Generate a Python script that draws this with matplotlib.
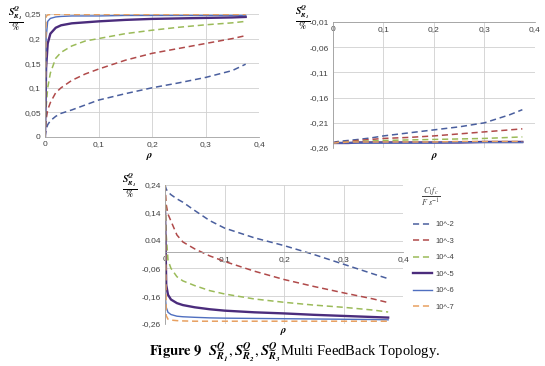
import numpy as np
import matplotlib
matplotlib.use("Agg")
import matplotlib.pyplot as plt

plt.rcParams['mathtext.fontset'] = 'stix'
plt.rcParams['font.family'] = ['Liberation Sans', 'DejaVu Sans']

# rho samples shared by all curves
rho = [0, 0.002, 0.005, 0.01, 0.02, 0.03, 0.05, 0.075, 0.1, 0.15, 0.2, 0.25, 0.3, 0.35, 0.375]

series = ['10^-2', '10^-3', '10^-4', '10^-5', '10^-6', '10^-7']

# S_R1 (top left)
r1_e2 = [0, 0.015, 0.025, 0.033, 0.042, 0.048, 0.055, 0.065, 0.075, 0.088, 0.100, 0.110, 0.121, 0.135, 0.148]
r1_e3 = [0, 0.035, 0.055, 0.070, 0.090, 0.100, 0.115, 0.128, 0.138, 0.156, 0.170, 0.180, 0.190, 0.200, 0.206]
r1_e4 = [0, 0.060, 0.100, 0.130, 0.160, 0.172, 0.185, 0.195, 0.200, 0.210, 0.217, 0.223, 0.228, 0.232, 0.235]
r1_e5 = [0, 0.140, 0.190, 0.210, 0.222, 0.227, 0.231, 0.233, 0.235, 0.238, 0.240, 0.241, 0.242, 0.243, 0.244]
r1_e6 = [0, 0.200, 0.235, 0.241, 0.244, 0.245, 0.246, 0.246, 0.246, 0.247, 0.247, 0.247, 0.247, 0.247, 0.247]
r1_e7 = [0, 0.245, 0.248, 0.249, 0.249, 0.249, 0.249, 0.249, 0.249, 0.249, 0.249, 0.249, 0.249, 0.249, 0.249]

# S_R2 (top right)
r2_e2 = [-0.250, -0.249, -0.248, -0.247, -0.246, -0.245, -0.243, -0.240, -0.236, -0.230, -0.224, -0.218, -0.210, -0.194, -0.184]
r2_e3 = [-0.250, -0.250, -0.249, -0.249, -0.248, -0.247, -0.245, -0.243, -0.241, -0.239, -0.236, -0.232, -0.228, -0.224, -0.222]
r2_e4 = [-0.250, -0.250, -0.250, -0.249, -0.249, -0.248, -0.247, -0.246, -0.245, -0.244, -0.243, -0.242, -0.241, -0.239, -0.238]
r2_e5 = [-0.250, -0.250, -0.250, -0.250, -0.250, -0.250, -0.249, -0.249, -0.249, -0.249, -0.249, -0.249, -0.248, -0.248, -0.248]
r2_e6 = [-0.250, -0.250, -0.250, -0.250, -0.250, -0.250, -0.250, -0.250, -0.250, -0.250, -0.250, -0.249, -0.249, -0.249, -0.249]
r2_e7 = [-0.250, -0.250, -0.250, -0.249, -0.249, -0.248, -0.248, -0.248, -0.248, -0.248, -0.248, -0.247, -0.247, -0.247, -0.247]

# S_R3 (bottom)
r3_e2 = [0.240, 0.225, 0.215, 0.205, 0.190, 0.178, 0.148, 0.112, 0.085, 0.050, 0.022, -0.010, -0.045, -0.080, -0.097]
r3_e3 = [0.240, 0.170, 0.135, 0.110, 0.060, 0.035, 0.010, -0.015, -0.035, -0.070, -0.100, -0.125, -0.148, -0.170, -0.183]
r3_e4 = [0.240, 0.060, -0.030, -0.060, -0.090, -0.105, -0.122, -0.140, -0.152, -0.170, -0.182, -0.192, -0.200, -0.210, -0.217]
r3_e5 = [0.150, -0.120, -0.155, -0.172, -0.185, -0.192, -0.200, -0.207, -0.212, -0.218, -0.222, -0.227, -0.231, -0.235, -0.237]
r3_e6 = [-0.150, -0.200, -0.218, -0.226, -0.232, -0.234, -0.236, -0.238, -0.239, -0.240, -0.241, -0.242, -0.243, -0.244, -0.245]
r3_e7 = [0.240, -0.230, -0.243, -0.246, -0.248, -0.249, -0.250, -0.250, -0.250, -0.250, -0.250, -0.250, -0.250, -0.250, -0.250]

xticks = [0, 0.1, 0.2, 0.3, 0.4]
xtick_labels = ['0', '0,1', '0,2', '0,3', '0,4']
yticks1 = [0, 0.05, 0.1, 0.15, 0.2, 0.25]
ytick_labels1 = ['0', '0,05', '0,1', '0,15', '0,2', '0,25']
yticks2 = [-0.26, -0.21, -0.16, -0.11, -0.06, -0.01]
ytick_labels2 = ['-0,26', '-0,21', '-0,16', '-0,11', '-0,06', '-0,01']
yticks3 = [-0.26, -0.16, -0.06, 0.04, 0.14, 0.24]
ytick_labels3 = ['-0,26', '-0,16', '-0,06', '0.04', '0,14', '0,24']

colors = ['#4a5f9e', '#b04a4a', '#9bbb59', '#4b2c7c', '#4f6fc0', '#e8a060']
styles = ['--', '--', '--', '-', '-', '--']
widths = [1.1, 1.1, 1.1, 1.7, 1.0, 1.1]

fig = plt.figure(figsize=(5.45, 3.66), dpi=100)
ax1 = fig.add_axes([0.0826, 0.6257, 0.3927, 0.3361])
ax2 = fig.add_axes([0.611, 0.5956, 0.3706, 0.3443])
ax3 = fig.add_axes([0.3028, 0.1148, 0.4367, 0.3798])

def style_axes(ax, yt, ytl):
    ax.set_xlim(0, 0.4)
    ax.set_ylim(yt[0], yt[-1])
    ax.set_xticks(xticks)
    ax.set_xticklabels(xtick_labels)
    ax.set_yticks(yt)
    ax.set_yticklabels(ytl)
    ax.grid(True, color='#d0d0d0', lw=0.6)
    ax.set_axisbelow(True)
    ax.tick_params(length=0, labelsize=6, labelcolor='#404040', pad=3)
    for s in ['top', 'right']:
        ax.spines[s].set_visible(False)
    ax.spines['left'].set_color('#a0a0a0')
    ax.spines['bottom'].set_color('#a0a0a0')
    ax.spines['left'].set_linewidth(0.6)
    ax.spines['bottom'].set_linewidth(0.6)

for ax, data in [(ax1, [r1_e2, r1_e3, r1_e4, r1_e5, r1_e6, r1_e7]),
                 (ax2, [r2_e2, r2_e3, r2_e4, r2_e5, r2_e6, r2_e7]),
                 (ax3, [r3_e2, r3_e3, r3_e4, r3_e5, r3_e6, r3_e7])]:
    for i, y in enumerate(data):
        line, = ax.plot(rho, y, color=colors[i], ls=styles[i], lw=widths[i], label=series[i])
        if styles[i] == '--':
            line.set_dashes((4, 2.5))

style_axes(ax1, yticks1, ytick_labels1)
style_axes(ax2, yticks2, ytick_labels2)
style_axes(ax3, yticks3, ytick_labels3)

# horizontal axis sits at the top for S_R2 and at zero for S_R3
ax2.spines['bottom'].set_position(('data', -0.01))
ax3.spines['bottom'].set_position(('data', 0))

ylab = r'$\frac{\mathbfit{S^Q_{R_1}}}{\%}$'
fig.text(0.029, 0.950, ylab, fontsize=10, ha='center', va='center')
fig.text(0.556, 0.953, ylab, fontsize=10, ha='center', va='center')
fig.text(0.238, 0.492, ylab, fontsize=10, ha='center', va='center')

rho_lab = r'$\mathbfit{\rho}$'
fig.text(0.275, 0.573, rho_lab, fontsize=7.5, ha='center', va='center')
fig.text(0.797, 0.573, rho_lab, fontsize=7.5, ha='center', va='center')
fig.text(0.52, 0.093, rho_lab, fontsize=7.5, ha='center', va='center')

# legend
fig.text(0.79, 0.463, r'$\frac{C_1 f_c}{F\ s^{-1}}$', fontsize=8.5, ha='center', va='center', color='#404040')
handles, labels = ax3.get_legend_handles_labels()
leg = fig.legend(handles, labels, loc='upper left', bbox_to_anchor=(0.745, 0.415),
                 frameon=False, fontsize=5.5, handlelength=2.5, labelspacing=1.2,
                 handletextpad=0.5)
for t in leg.get_texts():
    t.set_color('#404040')

fig.text(0.541, 0.038,
         r'$\mathbf{Figure\ 9}\ \ \mathbfit{S^Q_{R_1}}, \mathbfit{S^Q_{R_2}}, \mathbfit{S^Q_{R_3}}$Multi FeedBack Topology.',
         fontsize=10.5, ha='center', va='center', family='Liberation Serif')

fig.savefig('out.png', dpi=100)
